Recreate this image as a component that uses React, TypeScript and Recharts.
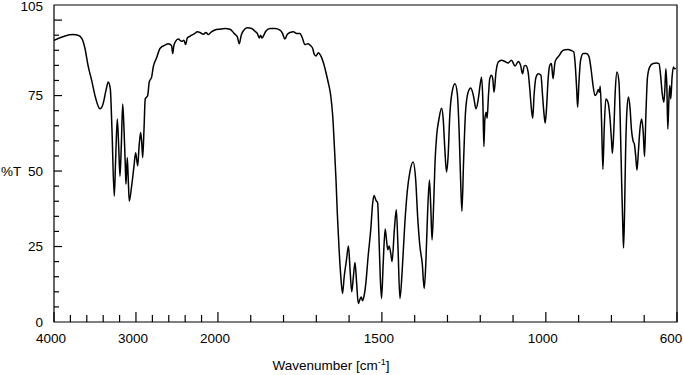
import { LineChart, Line, XAxis, YAxis, ReferenceArea, Label } from 'recharts'

// IR spectrum
const wavenumbers = [
  4000, 3768, 3707, 3659, 3622, 3585, 3537, 3500, 3439, 3402, 3366, 3338, 3313, 3293, 3265, 3248,
  3228, 3211, 3195, 3179, 3162, 3146, 3130, 3122, 3106, 3094, 3082, 3053, 3024, 3004, 2979, 2963,
  2943, 2930, 2918, 2902, 2887, 2870, 2857, 2838, 2809, 2789, 2748, 2707, 2646, 2606, 2565, 2552,
  2537, 2484, 2443, 2415, 2394, 2374, 2350, 2321, 2281, 2253, 2220, 2179, 2146, 2118, 2089, 2037,
  1994, 1979, 1963, 1951, 1941, 1935, 1929, 1921, 1911, 1897, 1887, 1880, 1874, 1870, 1866, 1860,
  1854, 1841, 1826, 1811, 1803, 1796, 1789, 1780, 1770, 1760, 1750, 1742, 1735, 1725, 1717, 1711,
  1707, 1701, 1694, 1687, 1679, 1671, 1664, 1656, 1650, 1645, 1640, 1636, 1631, 1626, 1620, 1615,
  1608, 1602, 1597, 1592, 1587, 1582, 1577, 1572, 1567, 1563, 1559, 1555, 1549, 1542, 1534, 1528,
  1524, 1518, 1513, 1509, 1505, 1501, 1496, 1490, 1486, 1482, 1478, 1473, 1469, 1462, 1456, 1451,
  1445, 1438, 1430, 1422, 1415, 1405, 1397, 1391, 1384, 1377, 1371, 1366, 1361, 1355, 1351, 1347,
  1342, 1338, 1333, 1326, 1318, 1313, 1308, 1303, 1298, 1293, 1286, 1277, 1270, 1264, 1260, 1256,
  1251, 1245, 1237, 1229, 1220, 1213, 1206, 1200, 1196, 1192, 1189, 1186, 1182, 1179, 1175, 1171,
  1166, 1162, 1158, 1152, 1145, 1135, 1125, 1115, 1105, 1094, 1084, 1077, 1071, 1066, 1061, 1054,
  1049, 1044, 1040, 1036, 1030, 1023, 1015, 1010, 1005, 1002, 998, 993, 988, 983, 978, 972,
  967, 959, 952, 942, 932, 922, 915, 911, 906, 903, 899, 894, 886, 876, 868, 866,
  861, 856, 850, 845, 840, 837, 834, 830, 826, 822, 817, 810, 805, 800, 797, 793,
  788, 783, 777, 773, 769, 765, 763, 760, 757, 753, 748, 743, 739, 734, 730, 726,
  722, 718, 713, 708, 703, 699, 695, 690, 683, 673, 662, 655, 650, 645, 640, 637,
  634, 631, 628, 625, 622, 619, 615, 611, 608, 603,
]

const transmittance = [
  93.3, 95.2, 95.0, 93.9, 90.6, 85.0, 79.6, 75.0, 70.6, 72.2, 76.7, 79.5, 77.2, 63.9, 41.7, 53.9,
  67.2, 58.3, 48.3, 58.3, 72.2, 63.9, 51.7, 45.6, 54.5, 47.2, 40.0, 45.0, 51.7, 56.1, 51.7, 57.8,
  62.8, 59.5, 54.5, 63.9, 73.9, 74.5, 75.0, 79.5, 81.1, 84.5, 87.5, 90.6, 91.7, 92.2, 91.5, 88.9,
  91.7, 93.7, 93.0, 93.3, 91.9, 94.1, 94.5, 95.0, 95.6, 96.1, 95.9, 95.3, 95.9, 95.2, 95.9, 96.7,
  97.0, 97.2, 97.0, 95.6, 94.5, 92.2, 95.0, 96.7, 97.5, 97.2, 96.3, 95.6, 94.1, 95.0, 94.1, 95.0,
  96.3, 97.2, 97.2, 96.7, 95.6, 93.7, 95.2, 95.9, 96.1, 95.6, 95.6, 93.9, 91.9, 92.2, 91.5, 90.6,
  88.9, 88.1, 89.2, 88.3, 86.1, 82.8, 79.5, 75.0, 68.3, 58.3, 47.2, 36.1, 25.0, 16.1, 9.5, 15.0,
  20.6, 25.2, 17.2, 10.0, 15.0, 19.7, 12.8, 6.1, 7.5, 8.3, 7.0, 8.3, 12.8, 21.7, 30.6, 39.5,
  41.9, 40.3, 39.5, 28.3, 15.0, 7.8, 19.5, 30.8, 27.2, 23.9, 25.2, 22.8, 20.0, 30.6, 37.2, 25.0,
  7.8, 17.2, 32.8, 43.9, 49.5, 53.0, 47.2, 35.0, 25.0, 19.5, 11.1, 19.5, 35.0, 47.0, 38.3, 27.2,
  39.5, 52.8, 61.7, 67.2, 70.8, 67.2, 57.2, 49.7, 55.0, 68.3, 76.1, 78.9, 75.6, 61.7, 47.2, 36.7,
  52.8, 69.5, 76.1, 77.5, 74.5, 70.6, 73.9, 78.9, 81.1, 72.8, 58.1, 67.2, 69.5, 67.5, 75.0, 80.6,
  81.7, 80.6, 76.1, 82.8, 86.1, 86.7, 86.3, 85.8, 86.7, 84.8, 86.3, 85.0, 82.2, 84.8, 85.0, 82.8,
  77.2, 70.6, 67.5, 75.0, 81.1, 82.2, 81.7, 75.0, 68.3, 65.9, 70.6, 80.6, 85.0, 85.6, 80.6, 86.1,
  87.2, 88.3, 89.5, 90.2, 90.3, 89.9, 89.5, 86.1, 77.2, 71.1, 79.5, 86.7, 88.9, 88.9, 87.8, 86.7,
  82.8, 78.3, 75.0, 75.6, 77.0, 76.1, 78.1, 66.1, 50.6, 63.9, 73.9, 72.6, 68.3, 60.6, 55.9, 62.8,
  77.2, 82.8, 79.5, 66.1, 47.2, 30.6, 24.5, 36.1, 55.0, 69.5, 74.5, 70.6, 63.9, 60.0, 58.9, 55.0,
  50.3, 56.1, 63.9, 67.2, 62.8, 54.8, 68.3, 81.1, 84.5, 85.6, 85.8, 85.6, 81.7, 75.6, 72.8, 77.2,
  83.9, 78.3, 63.9, 72.8, 78.3, 73.9, 81.1, 84.5, 83.9, 84.0,
]

const xMajorTicks = [4000, 3000, 2000, 1500, 1000, 600]
const xMinorTicks = [
  3800, 3600, 3400, 3200, 2800, 2600, 2400, 2200,
  1900, 1800, 1700, 1600, 1400, 1300, 1200, 1100, 900, 800, 700,
]
const yTicks = [0, 5, 10, 15, 20, 25, 30, 35, 40, 45, 50, 55, 60, 65, 70, 75, 80, 85, 90, 95, 100, 105]
const yMajorTicks = [0, 25, 50, 75, 100]
const yLabelTicks = [0, 25, 50, 75, 105]

// the wavenumber axis is compressed 4x above 2000 cm-1
const toAxis = (w: number) => (w >= 2000 ? (4000 - w) / 4 : 500 + (2000 - w))
const fromAxis = (u: number) => (u <= 500 ? 4000 - u * 4 : 2000 - (u - 500))

const chartData = wavenumbers.map((w, i) => ({ u: toAxis(w), t: transmittance[i] }))

const FONT = '"Liberation Sans", Arial, sans-serif'

function XTick(props: any) {
  const { x, y, payload } = props
  const w = Math.round(fromAxis(payload.value))
  const major = xMajorTicks.includes(w)
  return (
    <g>
      <line x1={x} x2={x} y1={y} y2={y - (major ? 10 : 7)} stroke="#000" strokeWidth={1.2} />
      {major && (
        <text x={w === 600 ? x - 6 : x - 3} y={y + 21} textAnchor="middle" fontSize={13.5} fontFamily={FONT} fill="#000">
          {w}
        </text>
      )}
    </g>
  )
}

function YTick(props: any) {
  const { x, y, payload } = props
  const v = payload.value
  const major = yMajorTicks.includes(v)
  return (
    <g>
      {v !== 105 && v !== 0 && (
        <line x1={x} x2={x + (major ? 8 : 5)} y1={y} y2={y} stroke="#000" strokeWidth={1.2} />
      )}
      {yLabelTicks.includes(v) && (
        <text x={x - 11} y={v === 105 ? y + 1.5 : y} dy="0.36em" textAnchor="end" fontSize={13.5} fontFamily={FONT} fill="#000">
          {v}
        </text>
      )}
    </g>
  )
}

export default function App() {
  const xTickValues = [...xMajorTicks, ...xMinorTicks].map(toAxis).sort((a, b) => a - b)
  return (
    <div style={{ position: 'absolute', left: 0, top: 0, width: 683, height: 375, background: '#fff' }}>
      <LineChart width={683} height={375} data={chartData} margin={{ top: 5, right: 6, bottom: 0, left: 0 }}>
        <XAxis
          dataKey="u"
          type="number"
          domain={[0, 1900]}
          ticks={xTickValues}
          interval={0}
          height={53}
          axisLine={false}
          tickLine={false}
          tickSize={0}
          tickMargin={0}
          tick={<XTick />}
        >
          <Label
            content={(p: any) => (
              <text x={p.viewBox.x + 277} y={p.viewBox.y + 48} textAnchor="middle" fontSize={13.5} fontFamily={FONT} fill="#000">
                Wavenumber [cm<tspan dy={-5} fontSize={9}>-1</tspan><tspan dy={5}>]</tspan>
              </text>
            )}
          />
        </XAxis>
        <YAxis
          type="number"
          domain={[0, 105]}
          ticks={yTicks}
          interval={0}
          width={54}
          axisLine={false}
          tickLine={false}
          tickSize={0}
          tickMargin={0}
          tick={<YTick />}
        >
          <Label
            content={(p: any) => (
              <text x={1} y={p.viewBox.y + p.viewBox.height * (1 - 50 / 105)} dy="0.36em" fontSize={13.5} fontFamily={FONT} fill="#000">
                %T
              </text>
            )}
          />
        </YAxis>
        <ReferenceArea x1={0} x2={1900} y1={0} y2={105} fill="none" stroke="#000" strokeWidth={1.2} />
        <Line
          type="monotone"
          dataKey="t"
          stroke="#000"
          strokeWidth={1.5}
          dot={false}
          isAnimationActive={false}
        />
      </LineChart>
    </div>
  )
}
